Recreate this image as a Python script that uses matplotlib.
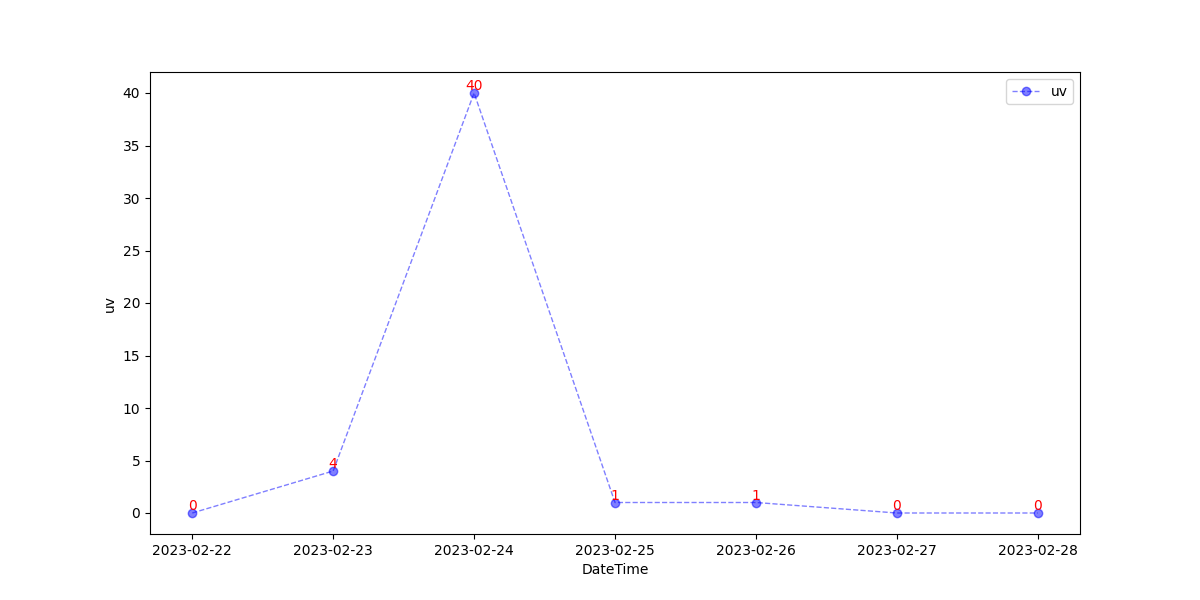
import matplotlib
matplotlib.use("Agg")
import matplotlib.pyplot as plt

# daily uv counts
dates = ["2023-02-22", "2023-02-23", "2023-02-24", "2023-02-25",
         "2023-02-26", "2023-02-27", "2023-02-28"]
uv = [0, 4, 40, 1, 1, 0, 0]

fig, ax = plt.subplots(figsize=(12, 6), dpi=100)
ax.plot(dates, uv, color="blue", linestyle="--", linewidth=1, marker="o",
        alpha=0.5, label="uv")

# value labels above each point
for d, v in zip(dates, uv):
    ax.text(d, v, str(v), color="red", ha="center", va="bottom", fontsize=10)

ax.set_xlabel("DateTime")
ax.set_ylabel("uv")
ax.legend(loc="upper right")

plt.savefig("out.png")
